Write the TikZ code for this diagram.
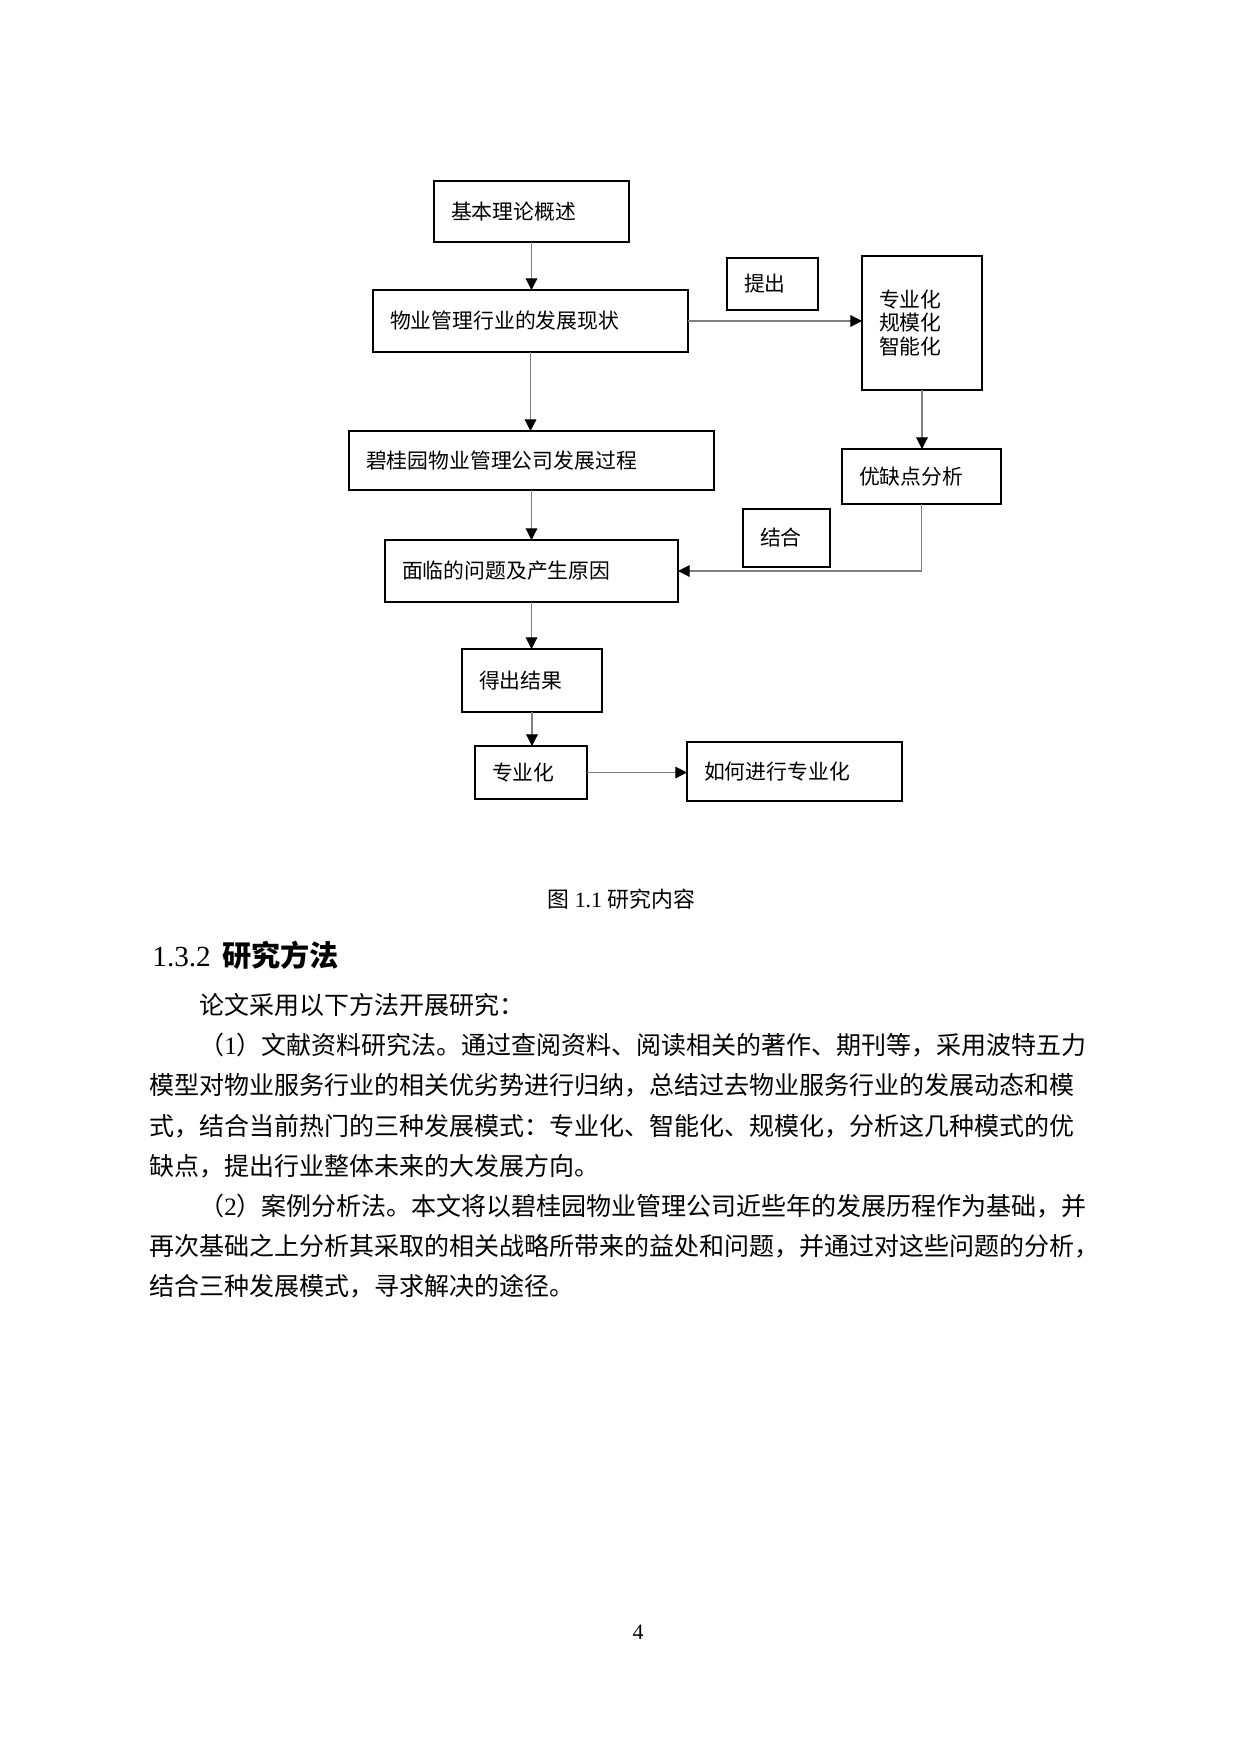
\documentclass[tikz,border=0pt]{standalone}
\usepackage{fontspec}
\setmainfont{Liberation Serif}
\newfontfamily\cjk{Noto Sans CJK SC}
\usetikzlibrary{arrows.meta}

\begin{document}
\begin{tikzpicture}[x=0.48pt, y=-0.48pt,
    box/.style={draw=black, line width=1.1pt, rectangle, anchor=west, align=left,
        inner xsep=8.16pt, inner ysep=0pt, outer sep=0pt,
        font=\cjk\fontsize{10pt}{11.3pt}\selectfont},
    conn/.style={draw=black!50, line width=0.55pt,
        -{Triangle[length=5.6pt, width=5.6pt, color=black]}},
    txt/.style={anchor=west, inner sep=0pt, font=\cjk\fontsize{12pt}{14pt}\selectfont}]
    \useasboundingbox (0,0) rectangle (1240,1754);

    % flow chart
    \node[box, text width=77.28pt, minimum height=29.28pt] (basic) at (434,211.5) {基本理论概述};
    \node[box, text width=134.88pt, minimum height=29.76pt] (status) at (373,321) {物业管理行业的发展现状};
    \node[box, text width=27.36pt, minimum height=24.96pt] (raise) at (727,284) {提出};
    \node[box, text width=41.28pt, minimum height=64.32pt] (modes) at (862,323) {专业化\\规模化\\智能化};
    \node[box, text width=158.88pt, minimum height=28.32pt] (bgy) at (349,460.5) {碧桂园物业管理公司发展过程};
    \node[box, text width=60pt, minimum height=26.4pt] (merits) at (842,476.5) {优缺点分析};
    \node[box, text width=25.44pt, minimum height=27.84pt] (combine) at (743,538) {结合};
    \node[box, text width=124.32pt, minimum height=29.76pt] (problem) at (385,571) {面临的问题及产生原因};
    \node[box, text width=50.88pt, minimum height=30.24pt] (result) at (462,680.5) {得出结果};
    \node[box, text width=37.44pt, minimum height=25.44pt] (prof) at (475,772.5) {专业化};
    \node[box, text width=86.88pt, minimum height=28.32pt] (howto) at (687,771.5) {如何进行专业化};

    \path
    (basic.south) edge[conn] (basic.south |- status.north)
    (status.south) edge[conn] (status.south |- bgy.north)
    (bgy.south) edge[conn] (bgy.south |- problem.north)
    (problem.south) edge[conn] (problem.south |- result.north)
    (result.south) edge[conn] (result.south |- prof.north)
    (status.east) edge[conn] (status.east -| modes.west)
    (modes.south) edge[conn] (modes.south |- merits.north)
    (prof.east) edge[conn] (prof.east -| howto.west);
    \draw[conn] (merits.south) |- (problem.east);

    \node[anchor=west, inner sep=0pt, font=\fontsize{10.5pt}{12pt}\selectfont] (caption) at (547,899)
        {{\cjk 图} 1.1 {\cjk 研究内容}};

    % section text
    \node[txt, font=\fontsize{14pt}{16pt}\selectfont] (head) at (152,955)
        {1.3.2\hspace{5.5pt}{\cjk\bfseries 研究方法}};
    \node[txt] (line1) at (199,1005) {论文采用以下方法开展研究：};
    \node[txt] (line2) at (199,1045) {（{\rmfamily 1}）文献资料研究法。通过查阅资料、阅读相关的著作、期刊等，采用波特五力};
    \node[txt] (line3) at (149,1085) {模型对物业服务行业的相关优劣势进行归纳，总结过去物业服务行业的发展动态和模};
    \node[txt] (line4) at (149,1126) {式，结合当前热门的三种发展模式：专业化、智能化、规模化，分析这几种模式的优};
    \node[txt] (line5) at (149,1166) {缺点，提出行业整体未来的大发展方向。};
    \node[txt] (line6) at (199,1206) {（{\rmfamily 2}）案例分析法。本文将以碧桂园物业管理公司近些年的发展历程作为基础，并};
    \node[txt] (line7) at (149,1246) {再次基础之上分析其采取的相关战略所带来的益处和问题，并通过对这些问题的分析，};
    \node[txt] (line8) at (149,1286) {结合三种发展模式，寻求解决的途径。};

    \node[inner sep=0pt, font=\fontsize{10.5pt}{12pt}\selectfont] (page) at (638,1632) {4};
\end{tikzpicture}
\end{document}
